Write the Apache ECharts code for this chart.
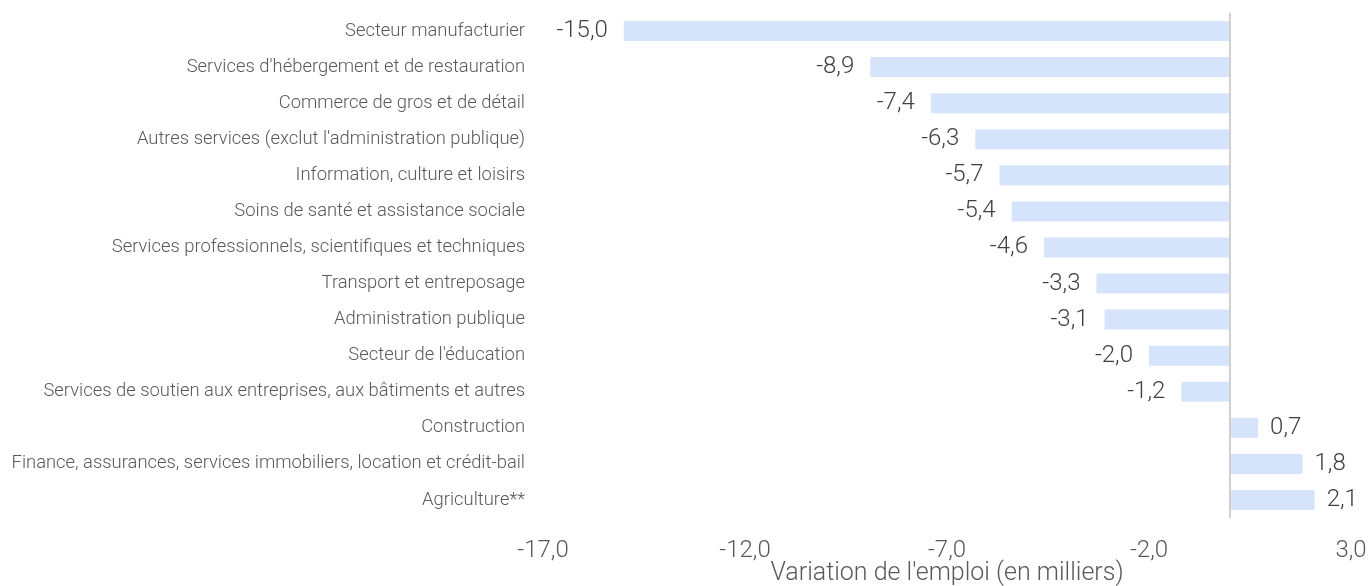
<!DOCTYPE html>
<html>
<head>
<meta charset="utf-8">
<script src="https://cdn.jsdelivr.net/npm/echarts@6/dist/echarts.min.js"></script>
<style>
  html, body { margin: 0; padding: 0; background: #fff; }
  #chart { width: 1370px; height: 586px; }
</style>
</head>
<body>
<div id="chart"></div>
<script>
// secteurs d'activité (du haut vers le bas)
const categories = [
  'Secteur manufacturier',
  "Services d'hébergement et de restauration",
  'Commerce de gros et de détail',
  "Autres services (exclut l'administration publique)",
  'Information, culture et loisirs',
  'Soins de santé et assistance sociale',
  'Services professionnels, scientifiques et techniques',
  'Transport et entreposage',
  'Administration publique',
  "Secteur de l'éducation",
  'Services de soutien aux entreprises, aux bâtiments et autres',
  'Construction',
  'Finance, assurances, services immobiliers, location et crédit-bail',
  'Agriculture**'
]
// variation de l'emploi (en milliers)
const variation = [-15.0, -8.9, -7.4, -6.3, -5.7, -5.4, -4.6, -3.3, -3.1, -2.0, -1.2, 0.7, 1.8, 2.1]

const fmt = v => v.toFixed(1).replace('.', ',')
const police = 'Roboto'

const option = {
  animation: false,
  grid: { left: 543, right: 19, top: 13, bottom: 68, outerBoundsMode: 'none', containLabel: false },
  xAxis: {
    type: 'value',
    min: -17,
    max: 3,
    interval: 5,
    name: "Variation de l'emploi (en milliers)",
    nameLocation: 'middle',
    nameGap: 43,
    nameMoveOverlap: false,
    nameTextStyle: { fontFamily: police, fontWeight: 300, fontSize: 25, color: '#595959' },
    axisLine: { show: false },
    axisTick: { show: false },
    splitLine: { show: false },
    axisLabel: {
      formatter: fmt,
      margin: 21,
      fontFamily: police,
      fontWeight: 300,
      fontSize: 24,
      color: '#595959'
    }
  },
  yAxis: {
    type: 'category',
    inverse: true,
    data: categories,
    axisLine: { show: false },
    axisTick: { show: false },
    axisLabel: {
      margin: 18,
      fontFamily: police,
      fontWeight: 300,
      fontSize: 18.4,
      color: '#595959'
    }
  },
  series: [{
    type: 'bar',
    barWidth: 20,
    itemStyle: { color: '#d6e4fb' },
    data: variation.map(v => ({
      value: v,
      label: {
        show: true,
        position: v < 0 ? 'left' : 'right',
        distance: v < 0 ? 16 : 12,
        formatter: p => fmt(p.value),
        fontFamily: police,
        fontWeight: 300,
        fontSize: 24,
        color: '#404040'
      }
    })),
    markLine: {
      silent: true,
      symbol: 'none',
      label: { show: false },
      lineStyle: { color: '#d0d0d0', type: 'solid', width: 2 },
      data: [{ xAxis: 0 }]
    }
  }]
}

const myChart = echarts.init(document.getElementById('chart'))
myChart.setOption(option)
</script>
</body>
</html>
